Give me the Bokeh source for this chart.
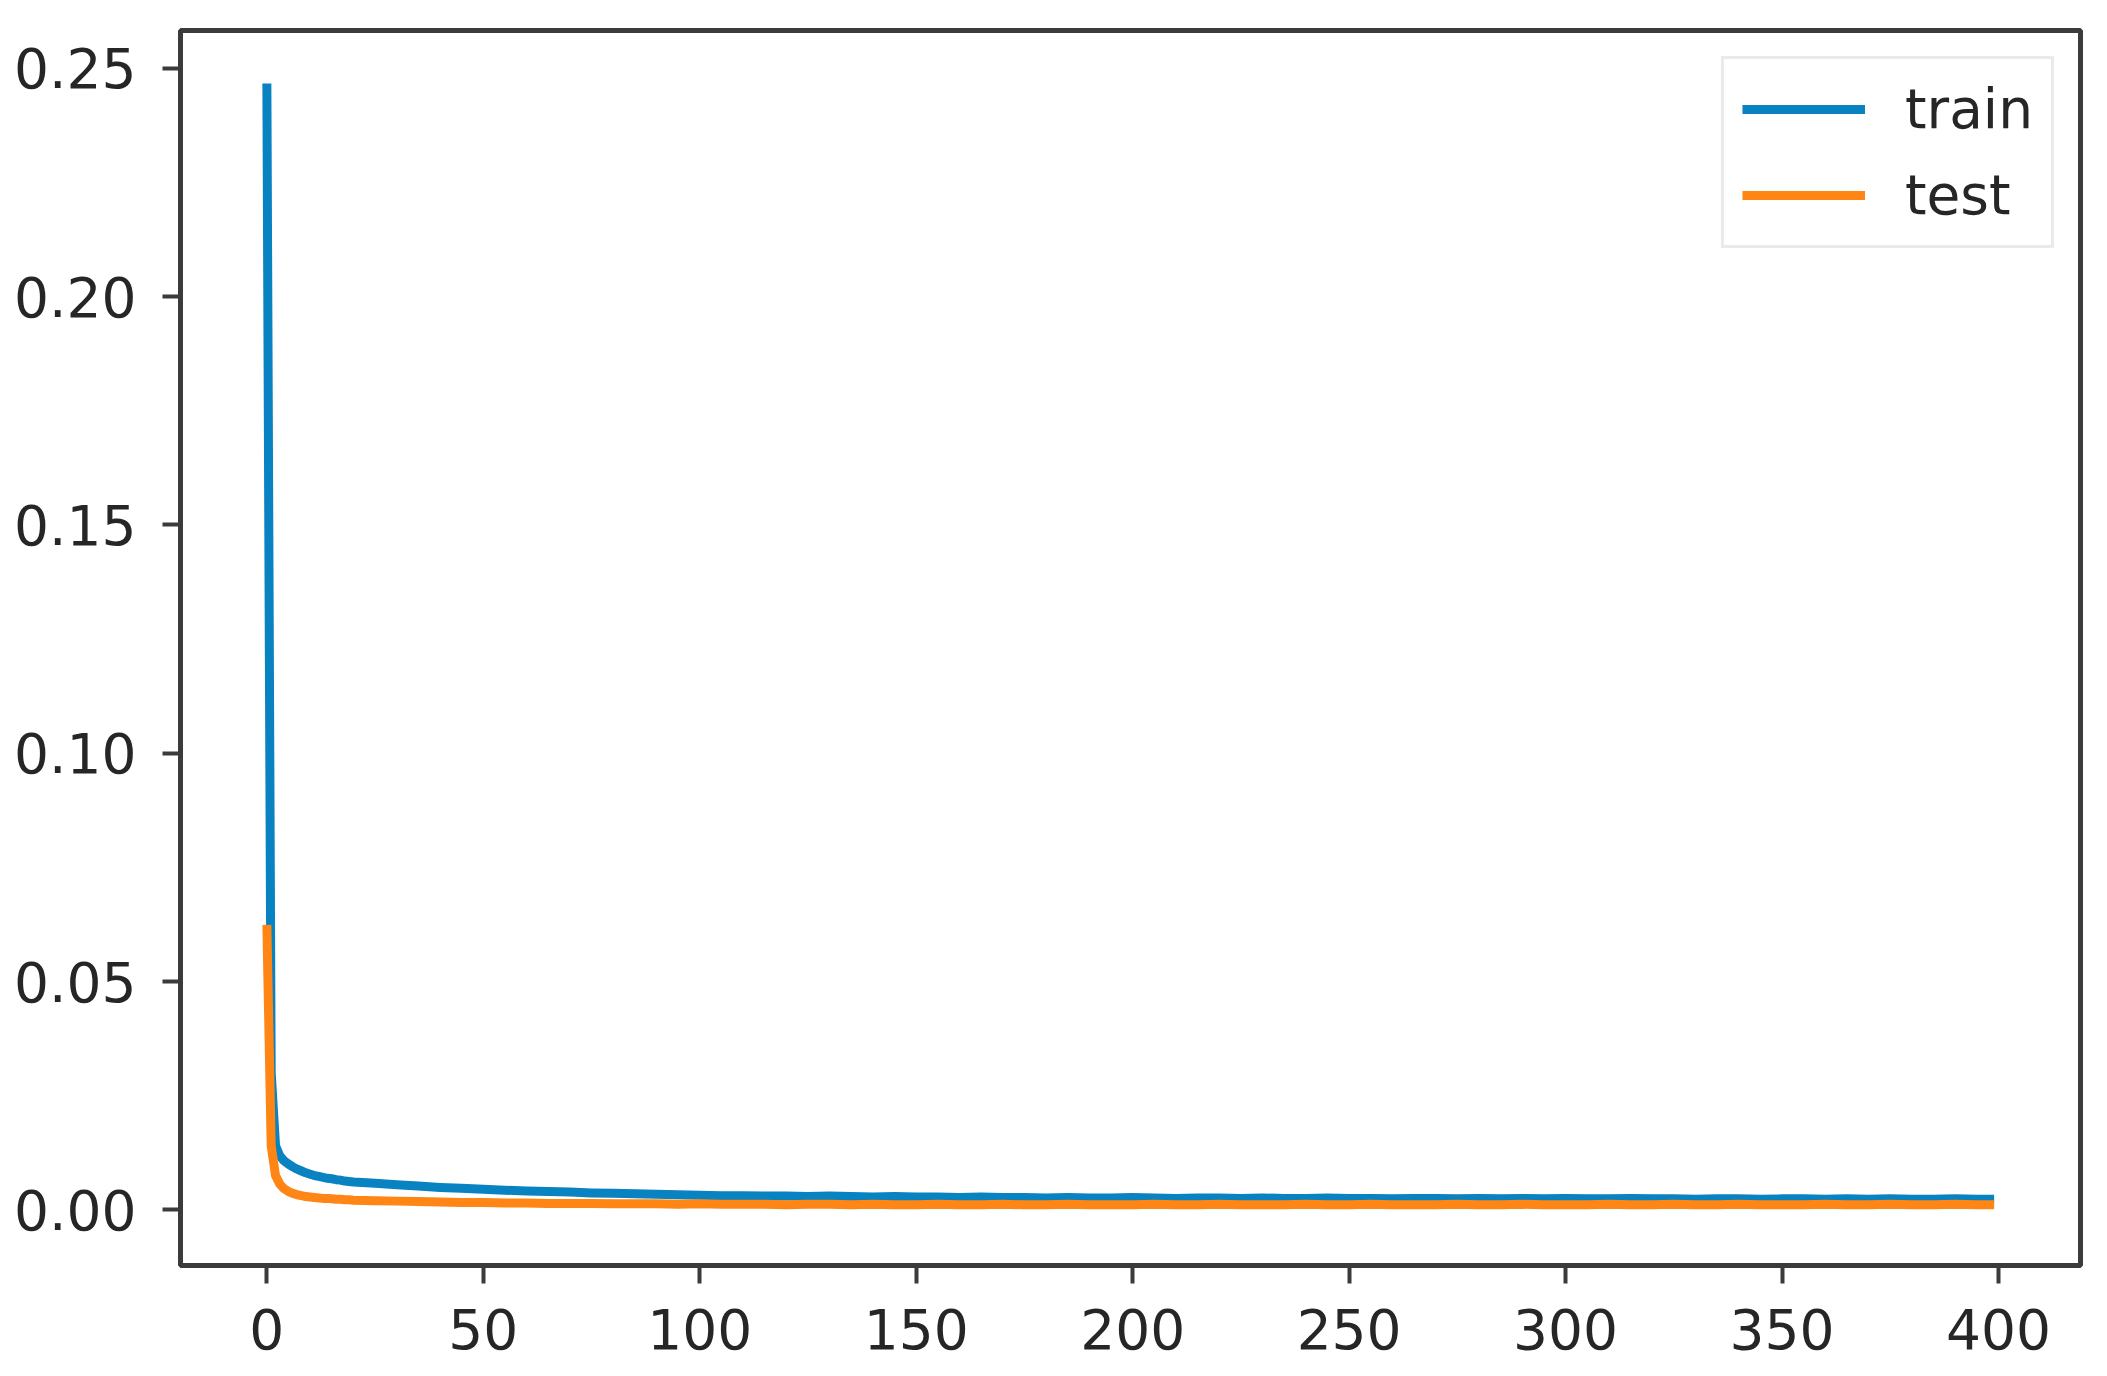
from bokeh.plotting import figure
from bokeh.models import Range1d, FixedTicker, PrintfTickFormatter, Legend, LegendItem
from bokeh.embed import file_html
from bokeh.resources import INLINE

# ---- data ----
epochs_early = [0, 1, 2, 3, 4, 5, 6, 7, 8, 9, 10, 11, 12, 13, 14, 15, 16, 17, 18, 19, 20]
train_early = [0.2467, 0.0300, 0.0140, 0.0118, 0.0107, 0.0100, 0.0094, 0.0089, 0.0085, 0.0081,
               0.0078, 0.0075, 0.0073, 0.0071, 0.0069, 0.0068, 0.0066, 0.0065, 0.0063, 0.0062, 0.0061]
test_early = [0.0624, 0.0140, 0.0075, 0.0056, 0.0046, 0.0040, 0.0036, 0.0033, 0.0031, 0.0029,
              0.0028, 0.0027, 0.0026, 0.0025, 0.0025, 0.0024, 0.0023, 0.0023, 0.0022, 0.0022, 0.0021]

epochs_late = [25, 30, 35, 40, 45, 50, 55, 60, 65, 70, 75, 80, 85, 90, 95,
               100, 105, 110, 115, 120, 125, 130, 135, 140, 145, 150, 155, 160, 165, 170, 175,
               180, 185, 190, 195, 200, 205, 210, 215, 220, 225, 230, 235, 240, 245, 250,
               255, 260, 265, 270, 275, 280, 285, 290, 295, 300, 305, 310, 315, 320, 325,
               330, 335, 340, 345, 350, 355, 360, 365, 370, 375, 380, 385, 390, 395, 399]
train_late = [0.0058, 0.0055, 0.0052, 0.0049, 0.0047, 0.0045, 0.0043, 0.0041, 0.0040, 0.0039, 0.0037, 0.0036, 0.0035, 0.0034, 0.0033,
              0.0032, 0.0031, 0.0031, 0.0030, 0.0030, 0.0029, 0.0030, 0.0029, 0.0028, 0.0029, 0.0028, 0.0028, 0.0027, 0.0028, 0.0027, 0.0027,
              0.0026, 0.0027, 0.0026, 0.0026, 0.0027, 0.0026, 0.0025, 0.0026, 0.0026, 0.0025, 0.0026, 0.0025, 0.0025, 0.0026, 0.0025,
              0.0025, 0.0024, 0.0025, 0.0025, 0.0024, 0.0025, 0.0024, 0.0025, 0.0024, 0.0025, 0.0024, 0.0024, 0.0025, 0.0024, 0.0024,
              0.0023, 0.0024, 0.0024, 0.0023, 0.0024, 0.0024, 0.0023, 0.0024, 0.0023, 0.0024, 0.0023, 0.0023, 0.0024, 0.0023, 0.0023]
test_late = [0.0020, 0.0019, 0.0018, 0.0017, 0.0016, 0.0016, 0.0015, 0.0015, 0.0014, 0.0014, 0.0014, 0.0013, 0.0013, 0.0013, 0.0012,
             0.0013, 0.0012, 0.0012, 0.0012, 0.0011, 0.0012, 0.0012, 0.0011, 0.0012, 0.0011, 0.0011, 0.0012, 0.0011, 0.0011, 0.0012, 0.0011,
             0.0011, 0.0012, 0.0011, 0.0011, 0.0011, 0.0012, 0.0011, 0.0011, 0.0012, 0.0011, 0.0011, 0.0011, 0.0012, 0.0011, 0.0011,
             0.0012, 0.0011, 0.0011, 0.0011, 0.0012, 0.0011, 0.0011, 0.0012, 0.0011, 0.0011, 0.0011, 0.0012, 0.0011, 0.0011, 0.0012,
             0.0011, 0.0011, 0.0012, 0.0011, 0.0011, 0.0011, 0.0012, 0.0011, 0.0011, 0.0012, 0.0011, 0.0011, 0.0012, 0.0011, 0.0011]

epochs = epochs_early + epochs_late
train_loss = train_early + train_late
test_loss = test_early + test_late

x_ticks = [0, 50, 100, 150, 200, 250, 300, 350, 400]
y_ticks = [0.00, 0.05, 0.10, 0.15, 0.20, 0.25]

BLUE = "#0882c0"
ORANGE = "#ff8514"
FONT = "DejaVu Sans"
FS = "55px"
TXT = "#262626"

p = figure(width=2098, height=1368, output_backend="svg", toolbar_location=None,
           x_range=Range1d(-19.95, 418.95), y_range=Range1d(-0.0122, 0.2583),
           min_border_left=180, min_border_right=18, min_border_top=30, min_border_bottom=103)

r_train = p.line(epochs, train_loss, line_color=BLUE, line_width=9, line_join="round")
r_test = p.line(epochs, test_loss, line_color=ORANGE, line_width=9, line_join="round")

p.xgrid.visible = False
p.ygrid.visible = False
p.outline_line_color = "#3b3b3b"
p.outline_line_width = 5
p.background_fill_color = "white"
p.border_fill_color = "white"

p.xaxis.ticker = FixedTicker(ticks=x_ticks)
p.yaxis.ticker = FixedTicker(ticks=y_ticks)
p.yaxis.formatter = PrintfTickFormatter(format="%.2f")
for ax in (p.xaxis[0], p.yaxis[0]):
    ax.axis_line_color = None
    ax.major_tick_line_color = "#3b3b3b"
    ax.major_tick_line_width = 4
    ax.major_tick_out = 18
    ax.major_tick_in = 0
    ax.minor_tick_line_color = None
    ax.major_label_text_font = FONT
    ax.major_label_text_font_size = FS
    ax.major_label_text_color = TXT
p.xaxis.major_label_standoff = 25
p.yaxis.major_label_standoff = 26

legend = Legend(items=[LegendItem(label="train", renderers=[r_train]),
                       LegendItem(label="test", renderers=[r_test])],
                location="top_right", margin=26, padding=18, spacing=22,
                glyph_width=123, glyph_height=56, label_height=56, label_standoff=40,
                label_text_font=FONT, label_text_font_size=FS, label_text_color=TXT,
                border_line_color="#d6d6d6", border_line_width=3,
                background_fill_color="white", background_fill_alpha=0.8)
p.add_layout(legend)

open("out.html", "w").write(file_html(p, INLINE))
